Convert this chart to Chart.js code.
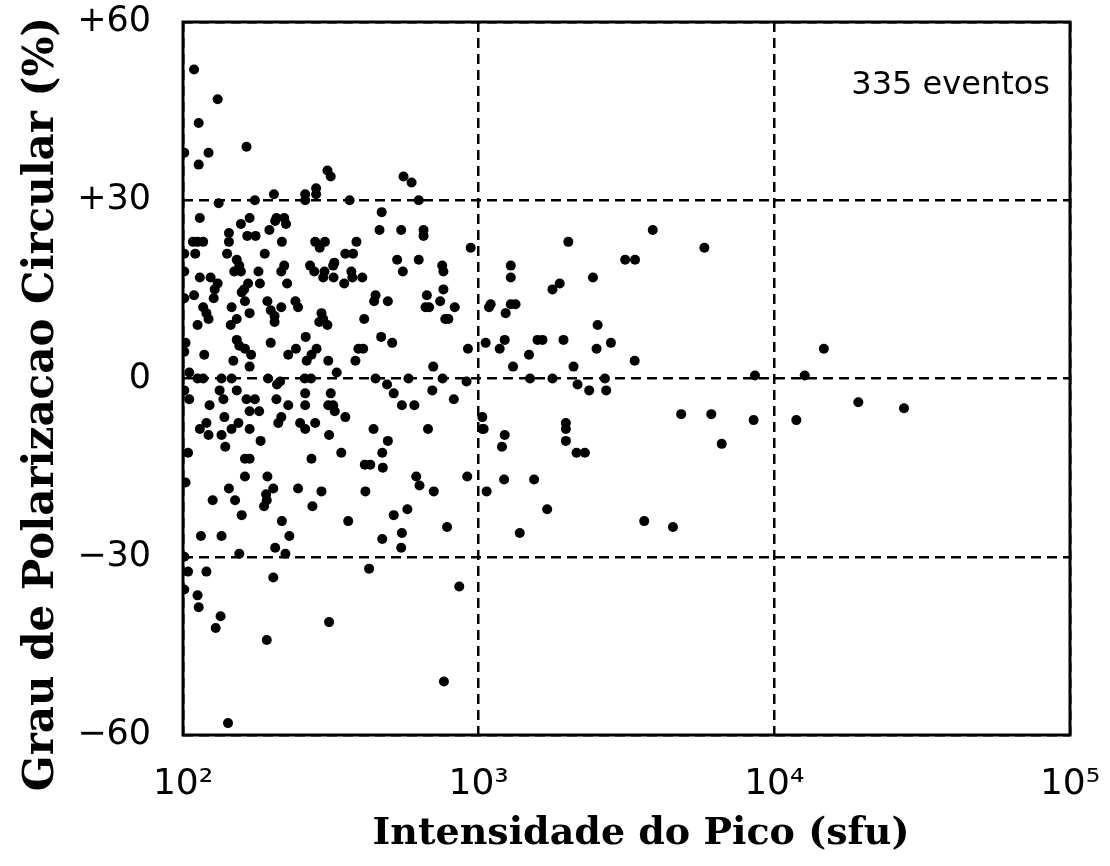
<!DOCTYPE html>
<html lang="pt">
<head>
    <meta charset="UTF-8">
    <title>Grau de polarizacao x intensidade do pico</title>
    <script src="https://cdn.jsdelivr.net/npm/chart.js"></script>
    <style>
        html, body { margin: 0; padding: 0; background: #fff; }
        #caixa { width: 1110px; height: 866px; }
    </style>
</head>
<body>
    <div id="caixa">
        <canvas id="grafico"></canvas>
    </div>

    <script>
        // eixos e textos
        const xTicks = [100, 1000, 10000, 100000];
        const xTickLabels = ['10²', '10³', '10⁴', '10⁵'];
        const yTicks = [-60, -30, 0, 30, 60];
        const yTickLabels = ['−60', '−30', '0', '+30', '+60'];
        const tituloX = 'Intensidade do Pico (sfu)';
        const tituloY = 'Grau de Polarizacao Circular (%)';
        const nota = '335 eventos';

        // eventos [intensidade (sfu), polarizacao (%)]
        const decada2 = [
            [109, 52], [131, 47], [113, 43], [101, 38], [122, 38], [113, 36], [164, 39], [308, 35], [316, 34],
            [282, 32], [282, 31], [259, 31], [259, 30], [203, 31], [175, 30], [132, 29.5],
            [557, 34], [593, 33], [366, 30], [627, 30],
            [114, 27], [157, 26], [168, 27], [196, 25], [205, 26.5], [207, 27], [220, 27], [223, 26],
            [108, 23], [112, 23], [117, 23], [143, 24.5], [143, 23], [165, 24], [176, 24], [216, 23],
            [280, 23], [290, 22], [302, 23],
            [110, 21], [141, 21], [189, 21], [152, 20], [155, 19], [149, 18], [157, 18], [180, 18],
            [215, 18], [220, 19], [269, 19], [278, 18], [301, 18], [298, 17], [325, 19.5], [322, 19], [323, 17],
            [101, 18], [114, 17], [124, 17], [131, 16], [128, 15], [127, 13.5], [166, 16], [161, 15],
            [158, 14.5], [182, 16], [225, 16], [109, 14],
            [117, 12], [120, 11], [122, 10], [146, 12], [162, 13], [193, 13], [198, 11.5], [204, 10.5],
            [204, 9.5], [215, 12], [240, 13], [245, 12], [168, 11], [152, 10], [145, 9], [112, 9],
            [294, 11], [298, 10], [308, 9], [289, 9.5],
            [152, 6.5], [155, 5.5], [162, 5], [198, 6], [260, 7], [101, 4.5], [118, 4], [170, 4], [148, 3],
            [168, 2], [227, 4], [241, 5], [262, 3], [272, 4], [283, 5], [310, 3], [331, 1], [105, 1],
            [135, 0], [146, 0], [194, 0], [213, -0.5], [258, 0], [271, 0], [112, 0], [117, 0],
            [470, 28], [462, 25], [547, 25], [651, 25], [651, 24], [386, 23], [354, 21], [376, 21],
            [530, 20], [627, 20], [554, 18], [940, 22], [753, 19], [760, 18], [371, 18], [374, 17],
            [351, 16], [404, 17], [760, 15], [668, 14], [448, 14], [443, 13], [493, 13], [741, 13],
            [661, 12], [680, 12], [830, 12], [771, 10], [790, 10], [410, 10], [468, 7], [510, 6],
            [392, 5], [407, 5], [383, 3], [920, 5], [702, 2],
            [448, 0], [579, 0], [755, 0], [910, -0.5], [490, -1],
            [101, -2], [105, -3.5], [133, -2], [137, -3.5], [152, -2], [208, -1], [164, -3.5], [175, -3.5],
            [207, -3.5], [259, -2.5], [316, -2.5], [123, -4.5], [227, -4.5], [259, -4.5], [310, -4.5],
            [322, -4.5], [326, -5.5], [168, -5.5], [181, -5.5], [138, -6.5], [215, -6.5], [210, -7.5],
            [120, -7.5], [114, -8.5], [154, -7.5], [146, -8.5], [249, -7.5], [259, -8.5], [280, -7.5],
            [122, -9.5], [135, -9.5], [168, -8.5], [312, -9.5], [183, -10.5], [139, -11.5], [104, -12.5],
            [162, -13.5], [168, -13.5], [272, -13.5], [162, -16.5], [193, -16.5], [102, -17.5],
            [143, -18.5], [202, -18.5], [245, -18.5], [294, -19], [126, -20.5], [150, -20.5],
            [191, -19.5], [192, -20.5], [188, -21.5], [274, -21.5], [158, -23], [216, -24],
            [115, -26.5], [135, -26.5], [229, -26.5], [155, -29.5], [205, -28.5], [222, -29.5],
            [516, -2.5], [697, -2], [824, -3.5], [550, -4.5], [606, -4.5], [354, -6.5], [441, -8.5],
            [674, -8.5], [493, -10.5], [343, -12.5], [472, -12.5], [412, -14.5], [430, -14.5],
            [474, -15], [615, -16.5], [915, -16.5], [631, -18], [705, -19], [414, -19], [574, -22],
            [516, -23], [362, -24], [782, -25], [550, -26], [472, -27], [547, -28.5],
            [104, -32.5], [120, -32.5], [202, -33.5], [426, -32], [112, -36.5], [113, -38.5],
            [134, -40], [129, -42], [312, -41], [192, -44], [860, -35], [763, -51], [142, -58],
            [101, 21], [101, 13.5], [102, 6], [101, -30], [101, -35.5]
        ];

        const decada3 = [
            [1056, 6], [1084, 12], [1098, 12.5], [1029, -6.5], [1029, -8.5], [1040, -8.5], [1064, -19],
            [3880, 25], [2010, 23], [5800, 22], [3130, 20], [3380, 20], [1284, 19], [1284, 17],
            [1880, 16], [1777, 15], [2435, 17], [1284, 12.5], [1333, 12.5], [1234, 11], [2525, 9],
            [1225, 6.5], [1178, 5], [1480, 4], [1581, 6.5], [1644, 6.5], [1936, 6.5], [2505, 5],
            [2801, 6], [3370, 3], [1307, 2], [2093, 2],
            [1492, 0], [1777, 0], [2673, 0], [8600, 0.5], [2160, -1], [2365, -2], [2700, -2],
            [4840, -6], [6120, -6], [8510, -7], [1225, -9.5], [1199, -11.5], [1972, -7.5],
            [1972, -8.5], [1972, -10.5], [2143, -12.5], [2287, -12.5], [6640, -11], [1219, -17],
            [1540, -17], [1705, -22], [1377, -26], [3630, -24], [4540, -25]
        ];

        const decada4 = [
            [14700, 5], [12670, 0.5], [11870, -7], [19230, -4], [27450, -5]
        ];

        const pontos = decada2.concat(decada3, decada4).map(p => ({ x: p[0], y: p[1] }));

        // moldura e textos
        const textos = {
            id: 'textos',
            afterDatasetsDraw(chart) {
                const { ctx, chartArea: a } = chart;
                ctx.save();
                ctx.strokeStyle = '#000';
                ctx.lineWidth = 3;
                ctx.strokeRect(a.left, a.top, a.right - a.left, a.bottom - a.top);

                ctx.fillStyle = '#000';
                ctx.font = '32px "DejaVu Sans"';
                ctx.textAlign = 'right';
                ctx.textBaseline = 'alphabetic';
                ctx.fillText(nota, a.right - 20, 94);

                ctx.font = 'bold 38px "DejaVu Serif"';
                ctx.textAlign = 'center';
                ctx.textBaseline = 'middle';
                ctx.fillText(tituloX, 641, 834);

                ctx.translate(42, 404);
                ctx.rotate(-Math.PI / 2);
                ctx.font = 'bold 42px "DejaVu Serif"';
                ctx.fillText(tituloY, 0, 0);
                ctx.restore();
            }
        };

        const ctx = document.getElementById('grafico');

        new Chart(ctx, {
            type: 'scatter',
            data: {
                datasets: [{
                    label: tituloY,
                    data: pontos,
                    pointRadius: 5,
                    pointBackgroundColor: '#000',
                    pointBorderWidth: 0
                }]
            },
            options: {
                responsive: true,
                maintainAspectRatio: false,
                animation: false,
                devicePixelRatio: 1,
                layout: { padding: { top: 22, right: 40, left: 0, bottom: 0 } },
                plugins: {
                    legend: { display: false },
                    tooltip: { enabled: false }
                },
                scales: {
                    x: {
                        type: 'logarithmic',
                        min: 100,
                        max: 100000,
                        afterBuildTicks: s => { s.ticks = xTicks.map(v => ({ value: v })); },
                        afterFit: s => { s.height = 131; s.paddingLeft = 0; s.paddingRight = 0; },
                        ticks: {
                            color: '#000',
                            padding: 28,
                            maxRotation: 0,
                            font: { family: 'DejaVu Sans', size: 36 },
                            callback: v => xTickLabels[xTicks.indexOf(v)]
                        },
                        grid: { color: '#000', lineWidth: 2.5, drawTicks: false },
                        border: { display: false, dash: [10, 6] }
                    },
                    y: {
                        min: -60,
                        max: 60,
                        afterBuildTicks: s => { s.ticks = yTicks.map(v => ({ value: v })); },
                        afterFit: s => { s.width = 183; s.paddingTop = 0; s.paddingBottom = 0; },
                        ticks: {
                            color: '#000',
                            padding: 32,
                            font: { family: 'DejaVu Sans', size: 35 },
                            callback: v => yTickLabels[yTicks.indexOf(v)]
                        },
                        grid: { color: '#000', lineWidth: 2.5, drawTicks: false },
                        border: { display: false, dash: [10, 6] }
                    }
                }
            },
            plugins: [textos]
        });
    </script>
</body>
</html>
